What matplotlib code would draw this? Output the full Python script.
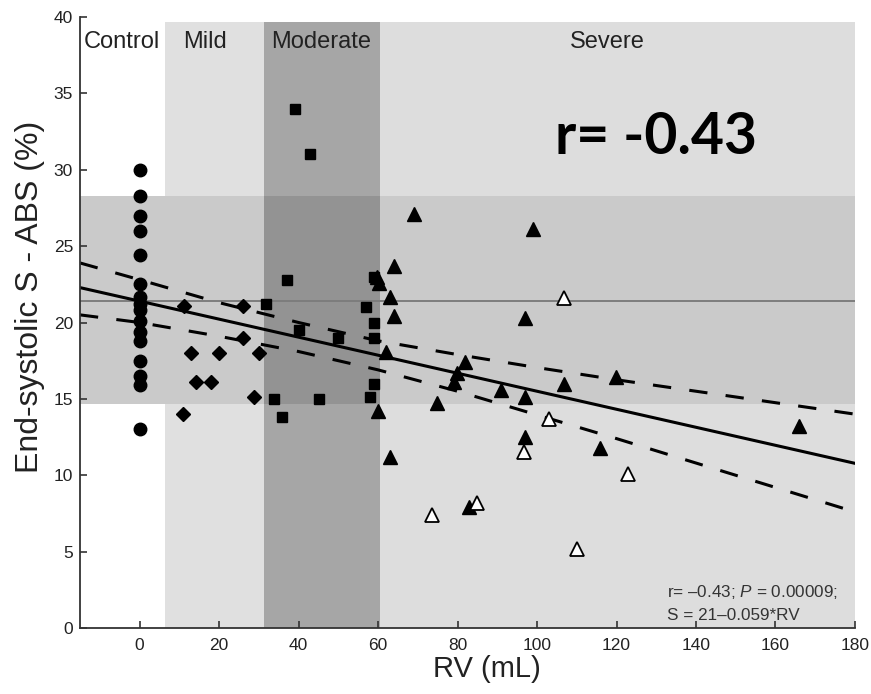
import numpy as np
import matplotlib
matplotlib.use("Agg")
import matplotlib.pyplot as plt

plt.rcParams["font.family"] = ["Liberation Sans", "DejaVu Sans"]
plt.rcParams["mathtext.fontset"] = "custom"
plt.rcParams["mathtext.it"] = "Liberation Sans:italic"
plt.rcParams["mathtext.rm"] = "Liberation Sans"

# groups (RV in mL, S in %)
control_y = [30.0, 28.3, 27.0, 26.0, 24.4, 22.5, 21.7, 21.2, 20.8, 20.1,
             19.4, 18.8, 17.5, 16.5, 15.9, 13.0]
control_x = [0] * len(control_y)

mild_x = [11.1, 26.0, 26.0, 13.0, 19.9, 30.0, 14.2, 18.0, 28.9, 11.0]
mild_y = [21.1, 21.1, 19.0, 18.0, 18.0, 18.0, 16.1, 16.1, 15.1, 14.0]

moderate_x = [39.0, 43.0, 37.0, 31.9, 56.9, 58.9, 58.9, 40.0, 50.0, 58.9,
              58.9, 58.1, 33.9, 45.1, 35.9]
moderate_y = [34.0, 31.0, 22.8, 21.2, 21.0, 23.0, 20.0, 19.5, 19.0, 19.0,
              16.0, 15.1, 15.0, 15.0, 13.8]

severe_x = [69.0, 99.0, 63.9, 59.8, 60.2, 62.9, 63.9, 97.0, 62.1, 82.0,
            79.9, 79.0, 90.9, 97.0, 74.8, 59.9, 97.0, 62.9, 106.8, 119.9,
            115.9, 82.8, 166.0]
severe_y = [27.1, 26.1, 23.7, 23.0, 22.6, 21.7, 20.4, 20.3, 18.1, 17.4,
            16.7, 16.1, 15.6, 15.1, 14.7, 14.2, 12.5, 11.2, 16.0, 16.4,
            11.8, 7.9, 13.2]

severe_open_x = [106.8, 102.9, 96.8, 122.8, 73.7, 85.0, 110.0]
severe_open_y = [21.6, 13.7, 11.5, 10.1, 7.4, 8.2, 5.2]

# regression S = 21 - 0.059*RV and its confidence band
fit_intercept = 21.4
fit_slope = -0.059
band_x = [-15, 0, 20, 40, 60, 80, 100, 120, 140, 160, 180]
band_upper = [23.9, 22.8, 21.3, 20.0, 18.8, 17.9, 17.05, 16.25, 15.5, 14.75, 14.0]
band_lower = [20.5, 20.0, 19.1, 18.1, 16.9, 15.5, 13.95, 12.4, 10.8, 9.2, 7.6]

# control mean and normal range
control_mean = 21.4
normal_lo, normal_hi = 14.65, 28.25

# severity zones
zone_names = ["Control", "Mild", "Moderate", "Severe"]
zone_edges = [-15, 6.5, 31.2, 60.4, 180]
zone_label_x = [-14.1, 11.0, 33.0, 108.3]

fig = plt.figure(figsize=(8.71, 6.94), dpi=100)
ax = fig.add_axes([0.0918, 0.0951, 0.8898, 0.8804])
ax.set_xlim(-15, 180)
ax.set_ylim(0, 40)

shade_top = 39.7
zone_colors = ["white", "#e0e0e0", "#a6a6a6", "#dddddd"]
for i in range(4):
    ax.fill_between([zone_edges[i], zone_edges[i + 1]], 0, shade_top,
                    color=zone_colors[i], lw=0, zorder=0)
ax.fill_between([zone_edges[0], zone_edges[-1]], normal_lo, normal_hi,
                color="#cacaca", lw=0, zorder=0.5)
ax.fill_between([zone_edges[2], zone_edges[3]], normal_lo, normal_hi,
                color="#939393", lw=0, zorder=0.6)

ax.axhline(control_mean, color="#7d7d7d", lw=1.4, zorder=1)

xl = np.array([-15, 180])
ax.plot(xl, fit_intercept + fit_slope * xl, color="black", lw=2.2, zorder=2)
ax.plot(band_x, band_upper, color="black", lw=2.2, dashes=(6, 6), zorder=2)
ax.plot(band_x, band_lower, color="black", lw=2.2, dashes=(6, 6), zorder=2)

ax.plot(control_x, control_y, "o", color="black", ms=9.0, ls="none", zorder=3)
ax.plot(mild_x, mild_y, "D", color="black", ms=7.4, ls="none", zorder=3)
ax.plot(moderate_x, moderate_y, "s", color="black", ms=7.3, ls="none", zorder=3)
ax.plot(severe_x, severe_y, "^", color="black", ms=10.0, ls="none", zorder=3)
ax.plot(severe_open_x, severe_open_y, "^", mfc="white", mec="black", mew=1.3,
        ms=9.6, ls="none", zorder=3)

for name, lx in zip(zone_names, zone_label_x):
    ax.text(lx, 38.0, name, fontsize=17, ha="left", va="baseline",
            color="#222222", zorder=4)

ax.text(104.6, 31.0, "r= -0.43", fontsize=41, fontweight="bold",
        family=["Lato", "DejaVu Sans"], ha="left", va="baseline", zorder=4)

ax.text(132.7, 2.0, "r= \u20130.43; $\\mathit{P}$ = 0.00009;", fontsize=12.3,
        ha="left", va="baseline", color="#333333", zorder=4)
ax.text(132.7, 0.55, "S = 21\u20130.059*RV", fontsize=12.3,
        ha="left", va="baseline", color="#333333", zorder=4)

for s in ["top", "right"]:
    ax.spines[s].set_visible(False)
for s in ["left", "bottom"]:
    ax.spines[s].set_color("#333333")
    ax.spines[s].set_linewidth(1.3)

ax.set_xticks(np.arange(0, 181, 20))
ax.set_yticks(np.arange(0, 41, 5))
ax.tick_params(direction="in", length=5, width=1.2, color="#333333",
               labelsize=12.5, labelcolor="#222222")
ax.tick_params(axis="x", pad=7)
ax.tick_params(axis="y", pad=5)

ax.set_xlabel("RV (mL)", fontsize=21, color="#222222")
ax.xaxis.set_label_coords(0.525, -0.067)
ax.xaxis.label.set_va("center")
ax.set_ylabel("End-systolic S - ABS (%)", fontsize=23, color="#222222")
ax.yaxis.set_label_coords(-0.0645, 0.542)
ax.yaxis.label.set_va("center")

fig.savefig("out.png", dpi=100)
